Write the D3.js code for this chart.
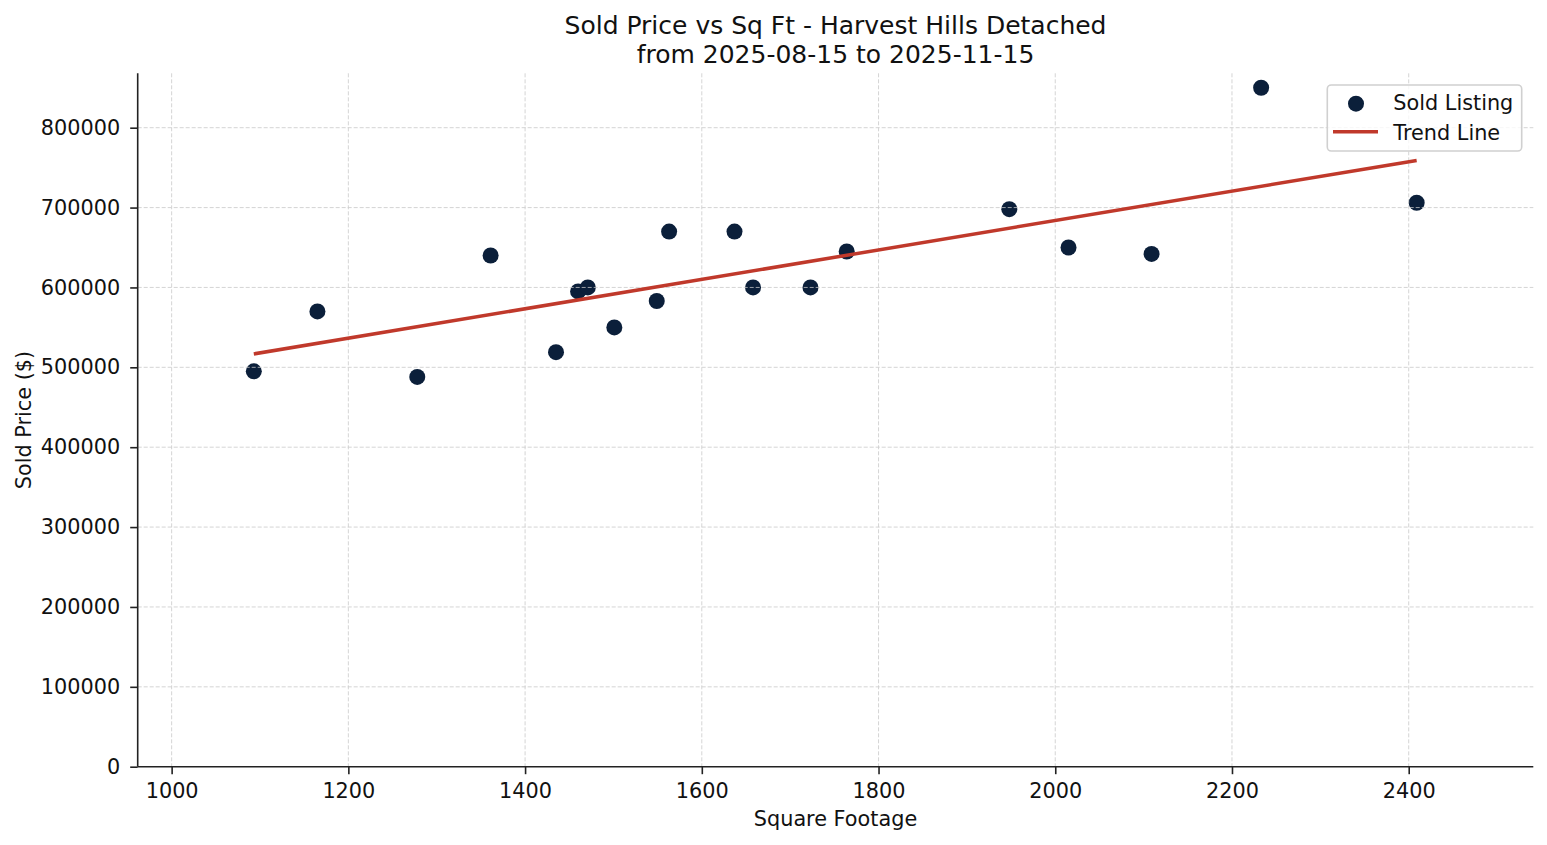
<!DOCTYPE html>
<html>
<head>
<meta charset="utf-8">
<script src="https://cdn.jsdelivr.net/npm/d3@7"></script>
<style>
  html, body { margin: 0; padding: 0; background: #fff; }
  svg { display: block; font-family: "DejaVu Sans", sans-serif; }
</style>
</head>
<body>
<svg id="chart" width="1547" height="845"></svg>
<script>
// ---- data ----
const sqft = [1093, 1165, 1278, 1361, 1435, 1460, 1471, 1501, 1549, 1563, 1637, 1658, 1723, 1764, 1948, 2015, 2109, 2233, 2409];
const price = [495000, 570000, 488000, 640000, 519000, 595000, 600000, 550000, 583000, 670000, 670000, 600000, 600000, 645000, 698000, 650000, 642000, 850000, 706000];
const xTicks = [1000, 1200, 1400, 1600, 1800, 2000, 2200, 2400];
const yTicks = [0, 100000, 200000, 300000, 400000, 500000, 600000, 700000, 800000];
const titleLines = ["Sold Price vs Sq Ft - Harvest Hills Detached", "from 2025-08-15 to 2025-11-15"];
const xLabel = "Square Footage";
const yLabel = "Sold Price ($)";
const legendLabels = ["Sold Listing", "Trend Line"];

// ---- layout ----
const W = 1547, H = 845;
const L = 137.7, R = 1533.3, T = 73.3, B = 766.7;
const dotColor = "#0b1f3a";
const lineColor = "#c0392b";
const fs = 20.8;

const svg = d3.select("#chart");
const x = d3.scaleLinear().domain([961.6, 2541]).range([L, R]);
const y = d3.scaleLinear().domain([0, 868100]).range([B, T]);

// least-squares trend line
const n = sqft.length;
const mx = d3.mean(sqft), my = d3.mean(price);
let sxy = 0, sxx = 0;
for (let i = 0; i < n; i++) { sxy += (sqft[i] - mx) * (price[i] - my); sxx += (sqft[i] - mx) ** 2; }
const slope = sxy / sxx, icpt = my - slope * mx;
const xMin = d3.min(sqft), xMax = d3.max(sqft);
const trend = [[xMin, icpt + slope * xMin], [xMax, icpt + slope * xMax]];

// scatter (below grid, as in original)
svg.append("g").selectAll("circle").data(sqft).join("circle")
  .attr("cx", (d) => x(d))
  .attr("cy", (d, i) => y(price[i]))
  .attr("r", 8)
  .attr("fill", dotColor);

// grid
const grid = svg.append("g").attr("stroke", "#c8c8c8").attr("stroke-width", 0.9).attr("stroke-dasharray", "4,2").attr("opacity", 0.85);
grid.selectAll("line.v").data(xTicks).join("line").attr("class", "v")
  .attr("x1", (d) => x(d)).attr("x2", (d) => x(d)).attr("y1", T).attr("y2", B);
grid.selectAll("line.h").data(yTicks.filter(d => d > 0)).join("line").attr("class", "h")
  .attr("y1", (d) => y(d)).attr("y2", (d) => y(d)).attr("x1", L).attr("x2", R);

// trend line
svg.append("path")
  .attr("d", d3.line().x(d => x(d[0])).y(d => y(d[1]))(trend))
  .attr("fill", "none").attr("stroke", lineColor).attr("stroke-width", 3.5);

// axes
const xAxis = svg.append("g").attr("transform", `translate(0,${B})`)
  .call(d3.axisBottom(x).tickValues(xTicks).tickFormat(d3.format("d")).tickSize(7.5).tickPadding(9.5).tickSizeOuter(0));
const yAxis = svg.append("g").attr("transform", `translate(${L},0)`)
  .call(d3.axisLeft(y).tickValues(yTicks).tickFormat(d3.format("d")).tickSize(7.5).tickPadding(10).tickSizeOuter(0));
[xAxis, yAxis].forEach(a => {
  a.attr("font-family", "DejaVu Sans").attr("font-size", fs);
  a.select(".domain").attr("stroke", "#222").attr("stroke-width", 1.6);
  a.selectAll(".tick line").attr("stroke", "#222").attr("stroke-width", 1.6);
  a.selectAll(".tick text").attr("fill", "#111");
});
xAxis.select(".domain").attr("d", `M${L},0H${R}`);
yAxis.select(".domain").attr("d", `M0,${T}V${B}`);

// labels
svg.append("text").attr("x", (L + R) / 2).attr("y", 826).attr("text-anchor", "middle")
  .attr("font-size", fs).attr("fill", "#111").text(xLabel);
svg.append("text").attr("transform", `translate(31,${(T + B) / 2}) rotate(-90)`).attr("text-anchor", "middle")
  .attr("font-size", fs).attr("fill", "#111").text(yLabel);

// title
svg.append("g").selectAll("text").data(titleLines).join("text")
  .attr("x", (L + R) / 2).attr("y", (d, i) => 34 + i * 29)
  .attr("text-anchor", "middle").attr("font-size", 25).attr("fill", "#111").text(d => d);

// legend
const lg = svg.append("g");
lg.append("rect").attr("x", 1327.3).attr("y", 85).attr("width", 194.4).attr("height", 66)
  .attr("rx", 4).attr("fill", "#fff").attr("fill-opacity", 0.8).attr("stroke", "#d0d0d0").attr("stroke-width", 1.6);
lg.append("circle").attr("cx", 1356).attr("cy", 103.7).attr("r", 8).attr("fill", dotColor);
lg.append("line").attr("x1", 1333).attr("x2", 1378).attr("y1", 131.7).attr("y2", 131.7)
  .attr("stroke", lineColor).attr("stroke-width", 3.5);
lg.selectAll("text").data(legendLabels).join("text")
  .attr("x", 1393.3).attr("y", (d, i) => 110 + i * 29.5)
  .attr("font-size", fs).attr("fill", "#111").text(d => d);
</script>
</body>
</html>
